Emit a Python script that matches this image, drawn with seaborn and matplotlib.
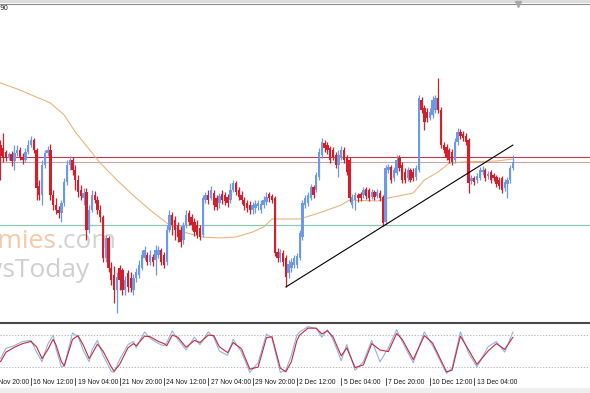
import numpy as np
import pandas as pd
import matplotlib
matplotlib.use("Agg")
import matplotlib.pyplot as plt
import matplotlib.transforms as mtransforms
from matplotlib.lines import Line2D
from matplotlib.patches import Rectangle
import seaborn as sns

# ---------------- data (H4 candles, price units) ----------------
opens = [255, 252, 248, 242, 246, 239, 247, 250, 243, 240,
         248, 255, 260, 250, 214, 205, 235, 247, 250, 205,
         195, 190, 187, 197, 218, 235, 240, 230, 220, 210,
         202, 208, 170, 190, 205, 200, 190, 183, 142, 162,
         132, 125, 110, 132, 130, 110, 127, 122, 110, 122,
         125, 132, 142, 145, 138, 143, 140, 145, 150, 145,
         138, 170, 185, 180, 175, 170, 160, 175, 187, 183,
         178, 175, 172, 165, 200, 205, 202, 207, 202, 197,
         206, 205, 203, 200, 210, 217, 210, 205, 200, 197,
         195, 190, 192, 194, 190, 195, 198, 206, 204, 202,
         148, 142, 147, 142, 127, 132, 135, 135, 142, 163,
         195, 197, 202, 213, 210, 223, 245, 257, 255, 252,
         250, 245, 235, 242, 250, 242, 240, 195, 200, 205,
         206, 205, 211, 210, 203, 208, 204, 207, 203, 178,
         230, 233, 222, 227, 242, 235, 228, 222, 230, 228,
         223, 230, 300, 292, 288, 282, 285, 290, 302, 290,
         255, 253, 250, 248, 240, 258, 268, 266, 264, 260,
         219, 222, 220, 222, 228, 230, 224, 228, 225, 223,
         220, 222, 212, 216, 220, 232]
closes = [244, 242, 242, 246, 239, 247, 250, 243, 240, 248,
          255, 260, 250, 212, 205, 235, 247, 250, 205, 195,
          190, 187, 197, 218, 235, 240, 230, 220, 208, 204,
          207, 170, 190, 205, 200, 190, 183, 142, 162, 132,
          120, 110, 123, 120, 110, 120, 113, 112, 122, 128,
          135, 145, 150, 138, 145, 138, 150, 150, 138, 135,
          170, 185, 175, 170, 163, 158, 175, 185, 178, 175,
          168, 165, 163, 202, 205, 200, 210, 195, 193, 204,
          200, 199, 197, 210, 217, 208, 203, 200, 194, 192,
          190, 195, 196, 197, 196, 200, 203, 202, 200, 147,
          142, 148, 138, 123, 136, 138, 142, 144, 167, 197,
          202, 205, 213, 205, 225, 248, 258, 252, 250, 240,
          243, 235, 245, 250, 240, 228, 202, 203, 205, 202,
          202, 210, 204, 202, 208, 203, 208, 202, 177, 232,
          233, 220, 230, 240, 232, 220, 220, 230, 220, 222,
          232, 302, 290, 278, 282, 288, 300, 302, 290, 255,
          250, 243, 240, 238, 258, 268, 264, 262, 258, 217,
          222, 218, 224, 230, 230, 222, 226, 220, 222, 216,
          214, 210, 218, 220, 232, 238]
highs = [260, 267, 250, 248, 249, 255, 255, 253, 247, 252,
         260, 264, 262, 252, 220, 240, 250, 254, 256, 210,
         202, 194, 200, 222, 240, 244, 243, 235, 225, 215,
         212, 212, 195, 210, 209, 204, 195, 185, 165, 164,
         138, 134, 128, 135, 132, 124, 130, 128, 126, 132,
         140, 150, 154, 148, 150, 146, 155, 154, 152, 148,
         175, 190, 188, 184, 178, 174, 178, 190, 190, 186,
         182, 180, 175, 205, 208, 210, 214, 210, 205, 207,
         210, 208, 206, 217, 220, 219, 213, 209, 203, 200,
         199, 198, 200, 200, 200, 204, 208, 208, 206, 204,
         152, 151, 150, 145, 140, 142, 145, 147, 170, 200,
         205, 208, 216, 215, 228, 252, 262, 260, 258, 254,
         253, 248, 250, 254, 253, 245, 243, 206, 208, 207,
         208, 213, 213, 212, 211, 210, 211, 210, 205, 235,
         236, 235, 233, 245, 245, 238, 232, 233, 232, 232,
         235, 305, 303, 295, 292, 292, 304, 305, 322, 293,
         258, 256, 252, 251, 262, 272, 271, 269, 267, 262,
         225, 224, 227, 233, 234, 232, 229, 230, 227, 225,
         223, 224, 221, 223, 235, 245]
lows = [220, 238, 239, 240, 234, 230, 244, 240, 236, 238,
        246, 253, 247, 200, 200, 195, 232, 244, 200, 190,
        186, 182, 178, 194, 215, 230, 225, 210, 203, 200,
        195, 160, 167, 188, 197, 186, 178, 138, 138, 128,
        115, 97, 87, 110, 105, 105, 108, 108, 105, 118,
        122, 130, 140, 135, 135, 134, 125, 142, 135, 132,
        135, 168, 165, 160, 158, 153, 156, 172, 175, 170,
        164, 162, 160, 163, 197, 196, 200, 190, 190, 192,
        196, 195, 193, 197, 208, 205, 200, 196, 190, 188,
        186, 186, 187, 190, 187, 192, 195, 198, 197, 144,
        138, 138, 134, 113, 122, 128, 132, 132, 140, 160,
        192, 194, 200, 202, 208, 220, 242, 248, 246, 237,
        240, 232, 223, 240, 237, 225, 198, 192, 190, 198,
        199, 202, 201, 199, 201, 200, 202, 199, 174, 175,
        227, 217, 219, 225, 229, 217, 217, 219, 218, 219,
        220, 228, 287, 270, 278, 280, 282, 287, 287, 252,
        247, 240, 237, 235, 237, 255, 261, 259, 255, 207,
        216, 215, 217, 220, 225, 219, 221, 217, 219, 213,
        211, 207, 209, 202, 217, 230]

# moving average (read at sample bars)
ma_bars = [0, 7, 18, 23, 27, 36, 42, 49, 54, 60, 66, 73, 79, 85, 91, 95, 98,
           108, 115, 123, 126, 136, 140, 149, 153, 158, 162, 167, 179, 185]
ma_values = [317, 310, 297, 285, 268, 237, 220, 202, 190, 177, 168, 163, 162,
             163, 168, 173, 181, 181, 187, 195, 200, 199, 202, 207, 220, 228,
             237, 238, 239, 241]

# horizontal levels and trend line
resistance_1 = 243
resistance_2 = 238
support_level = 175
trend_bars = [103, 185]
trend_values = [113, 255]

# stochastic oscillator
stoch_bars = [0, 2, 5, 8, 11, 13, 15, 17, 19, 20, 22, 23, 26, 28, 30, 32, 33, 35, 37, 40,
              41, 43, 46, 48, 49, 52, 54, 57, 59, 60, 62, 64, 67, 70, 72, 75, 77, 79, 82, 84,
              87, 90, 93, 96, 98, 101, 103, 105, 107, 108, 111, 114, 116, 118, 120, 123, 125,
              128, 131, 134, 137, 140, 143, 145, 149, 153, 156, 161, 163, 166, 169, 172, 176,
              179, 182, 185]
stoch_main = [36, 55, 60, 68, 70, 48, 30, 62, 80, 55, 20, 22, 84, 77, 50, 30, 52, 70, 42, 12,
              10, 34, 62, 68, 56, 86, 74, 64, 60, 66, 88, 72, 52, 76, 62, 86, 76, 50, 42, 72,
              48, 10, 28, 82, 74, 10, 14, 42, 80, 86, 96, 92, 76, 90, 72, 32, 62,
              14, 30, 70, 30, 56, 90, 68, 28, 86, 60, 8, 18, 86, 46, 20, 58,
              68, 48, 86]
stoch_signal = [30, 48, 57, 64, 68, 58, 36, 52, 72, 62, 30, 22, 72, 79, 60, 36, 44, 63, 50, 20,
                12, 25, 56, 64, 60, 78, 77, 68, 64, 60, 80, 76, 57, 70, 66, 80, 79, 58, 47, 66,
                54, 16, 20, 75, 77, 18, 11, 30, 70, 80, 93, 93, 82, 88, 77, 41, 56,
                19, 24, 64, 52, 49, 83, 72, 34, 79, 65, 11, 14, 78, 52, 25, 50,
                64, 53, 76]
stoch_levels = [80, 20]

tick_bars = [-5, 11, 27, 43, 59, 75, 91, 107, 123, 139, 155, 171]
tick_labels = ["13 Nov 20:00", "16 Nov 12:00", "19 Nov 04:00", "21 Nov 20:00",
               "24 Nov 12:00", "27 Nov 04:00", "29 Nov 20:00", "2 Dec 12:00",
               "5 Dec 04:00", "7 Dec 20:00", "10 Dec 12:00", "13 Dec 04:00"]

# ---------------- drawing ----------------
sns.set_theme(style="white")
plt.rcParams["font.family"] = ["DejaVu Sans"]

W, H = 590, 393
fig = plt.figure(figsize=(W / 100, H / 100), dpi=100)
fig.patch.set_facecolor("white")


def add_px_axes(x0, y0, x1, y1):
    return fig.add_axes([x0 / W, 1 - y1 / H, (x1 - x0) / W, (y1 - y0) / H])


ax = add_px_axes(0, 4, W, 320)
ax2 = add_px_axes(0, 324, W, 378)
XMIN, XMAX = -0.18, 212.8
for a in (ax, ax2):
    a.set_xlim(XMIN, XMAX)
    a.set_axis_off()
ax.set_ylim(80, 396)
ax2.set_ylim(-0.6, 100.8)

BLUE = "#6A9AE8"
RED = "#D41E2A"

df = pd.DataFrame({"bar": np.arange(len(closes)), "open": opens, "high": highs,
                   "low": lows, "close": closes})
rising = df["close"] >= df["open"]
cols = np.where(rising, BLUE, RED)
ax.vlines(df["bar"], df["low"], df["high"], colors=cols, linewidth=0.9, zorder=4)
body_lo = df[["open", "close"]].min(axis=1)
body_h = (df["close"] - df["open"]).abs().clip(lower=1.5)
ax.bar(df["bar"], body_h, bottom=body_lo, width=0.85, color=cols, linewidth=0, zorder=5)

ax.axhline(resistance_1, color="#C63A48", lw=0.8, zorder=2)
ax.axhline(resistance_2, color="#CDA3A8", lw=0.8, zorder=2)
ax.axhline(support_level, color="#8CC8B2", lw=0.9, zorder=2)

sns.lineplot(x=ma_bars, y=ma_values, ax=ax, color="#E8B276", lw=0.75, zorder=3)
sns.lineplot(x=trend_bars, y=trend_values, ax=ax, color="black", lw=0.8, zorder=6)

# watermark
ax.text(56 / W, 1 - 248 / H, "economies", transform=fig.transFigure, ha="right",
        va="baseline", fontsize=19, color="#F6C8A4", family="Open Sans", zorder=1)
ax.text(56 / W, 1 - 248 / H, ".com", transform=fig.transFigure, ha="left",
        va="baseline", fontsize=19, color="#D2D2D2", family="Open Sans", zorder=1)
ax.text(90 / W, 1 - 277 / H, "NewsToday", transform=fig.transFigure, ha="right",
        va="baseline", fontsize=19, color="#CFCFCF", family="Open Sans", zorder=1)

# stochastic panel
for lv in stoch_levels:
    ax2.axhline(lv, color="#A8A8A8", lw=0.6, ls=(0, (1.5, 2)), zorder=1)
sns.lineplot(x=stoch_bars, y=stoch_main, ax=ax2, color="#8DB4E2", lw=0.8, zorder=3)
sns.lineplot(x=stoch_bars, y=stoch_signal, ax=ax2, color="#C8283C", lw=0.8, zorder=4)

# frame pieces
fig.add_artist(Rectangle((0, 1 - 3 / H), 1, 3 / H, transform=fig.transFigure,
                         facecolor="#DCDCDC", edgecolor="none"))
fig.add_artist(Line2D([0, 1], [1 - 3.5 / H] * 2, transform=fig.transFigure,
                      color="#8C8C8C", lw=0.8))
fig.add_artist(Line2D([0, 1], [1 - 322.5 / H] * 2, transform=fig.transFigure,
                      color="#4A4A4A", lw=1.5))
fig.add_artist(Rectangle((0, 0), 1, 5 / H, transform=fig.transFigure,
                         facecolor="#EFEFEF", edgecolor="none"))
fig.add_artist(Line2D([518 / W], [1 - 4 / H], transform=fig.transFigure, marker="v",
                      markersize=4.5, color="#A8A8A8", lw=0))
fig.text(0, 1 - 5 / H, "90", fontsize=5, va="top", ha="left", color="#222222")

# time axis
bt = mtransforms.blended_transform_factory(ax2.transData, fig.transFigure)
lab_tr = mtransforms.offset_copy(bt, fig=fig, x=2.5, y=0, units="dots")
for b, lab in zip(tick_bars, tick_labels):
    fig.add_artist(Line2D([b, b], [1 - 378 / H, 1 - 385 / H], transform=bt,
                          color="#505050", lw=0.7))
    fig.text(b, 1 - 383 / H, lab, transform=lab_tr, ha="left", va="center",
             fontsize=4.9, family=["Liberation Sans"], color="#1A1A1A")

fig.savefig("out.png", dpi=100)
